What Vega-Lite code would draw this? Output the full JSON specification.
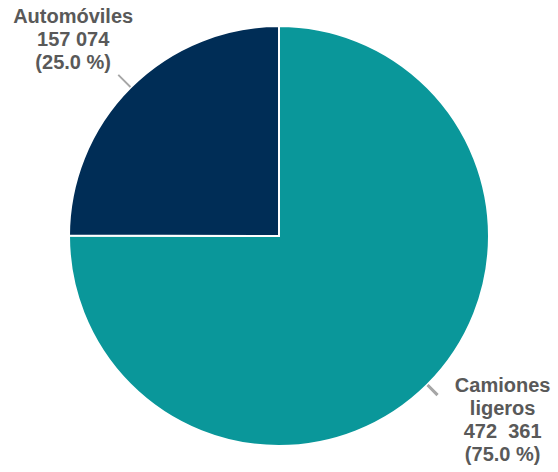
{
  "$schema": "https://vega.github.io/schema/vega-lite/v6.json",
  "autosize": {"type": "none"},
  "width": 558,
  "height": 472,
  "padding": 0,
  "background": "white",
  "config": {"view": {"stroke": null}},
  "data": {
    "values": [
      {"tipo": "Camiones ligeros", "valor": 472361, "orden": 1, "etiqueta": "Camiones\nligeros\n472\u00a0\u00a0361\n(75.0 %)"},
      {"tipo": "Automóviles", "valor": 157074, "orden": 2, "etiqueta": "Automóviles\n157 074\n(25.0 %)"}
    ]
  },
  "transform": [
    {"stack": "valor", "groupby": [], "sort": [{"field": "orden", "order": "ascending"}], "as": ["v0", "v1"]}
  ],
  "layer": [
    {
      "mark": {"type": "arc", "outerRadius": 210, "stroke": "white", "strokeWidth": 2},
      "encoding": {
        "theta": {"field": "v0", "type": "quantitative"},
        "theta2": {"field": "v1"},
        "color": {
          "field": "tipo",
          "type": "nominal",
          "scale": {"domain": ["Camiones ligeros", "Automóviles"], "range": ["#0A979A", "#002D56"]},
          "legend": null
        }
      }
    },
    {
      "mark": {"type": "arc", "innerRadius": 211, "outerRadius": 227, "thetaOffset": 0.7824, "theta2Offset": -0.7824, "fill": "#A6A6A6", "stroke": "#A6A6A6", "strokeWidth": 1.2},
      "encoding": {
        "theta": {"field": "v0", "type": "quantitative"},
        "theta2": {"field": "v1"},
        "opacity": {"condition": {"test": "datum.orden == 2", "value": 1}, "value": 0}
      }
    },
    {
      "mark": {"type": "arc", "innerRadius": 211, "outerRadius": 224, "thetaOffset": 2.3532, "theta2Offset": -2.3532, "fill": "#A6A6A6", "stroke": "#A6A6A6", "strokeWidth": 1.2},
      "encoding": {
        "theta": {"field": "v0", "type": "quantitative"},
        "theta2": {"field": "v1"},
        "opacity": {"condition": {"test": "datum.orden == 1", "value": 1}, "value": 0}
      }
    },
    {
      "mark": {"type": "text", "radius": 300, "dx": 6, "dy": -7, "font": "Liberation Sans", "fontWeight": "bold", "fontSize": 20, "lineHeight": 23, "lineBreak": "\n", "color": "#595959", "align": "center", "baseline": "middle"},
      "encoding": {
        "theta": {"field": "valor", "type": "quantitative", "stack": true},
        "order": {"field": "orden", "type": "quantitative"},
        "text": {"condition": {"test": "datum.orden == 2", "field": "etiqueta"}, "value": ""}
      }
    },
    {
      "mark": {"type": "text", "radius": 270, "dx": 33, "dy": -41, "font": "Liberation Sans", "fontWeight": "bold", "fontSize": 20, "lineHeight": 23, "lineBreak": "\n", "color": "#595959", "align": "center", "baseline": "middle"},
      "encoding": {
        "theta": {"field": "valor", "type": "quantitative", "stack": true},
        "order": {"field": "orden", "type": "quantitative"},
        "text": {"condition": {"test": "datum.orden == 1", "field": "etiqueta"}, "value": ""}
      }
    }
  ]
}
